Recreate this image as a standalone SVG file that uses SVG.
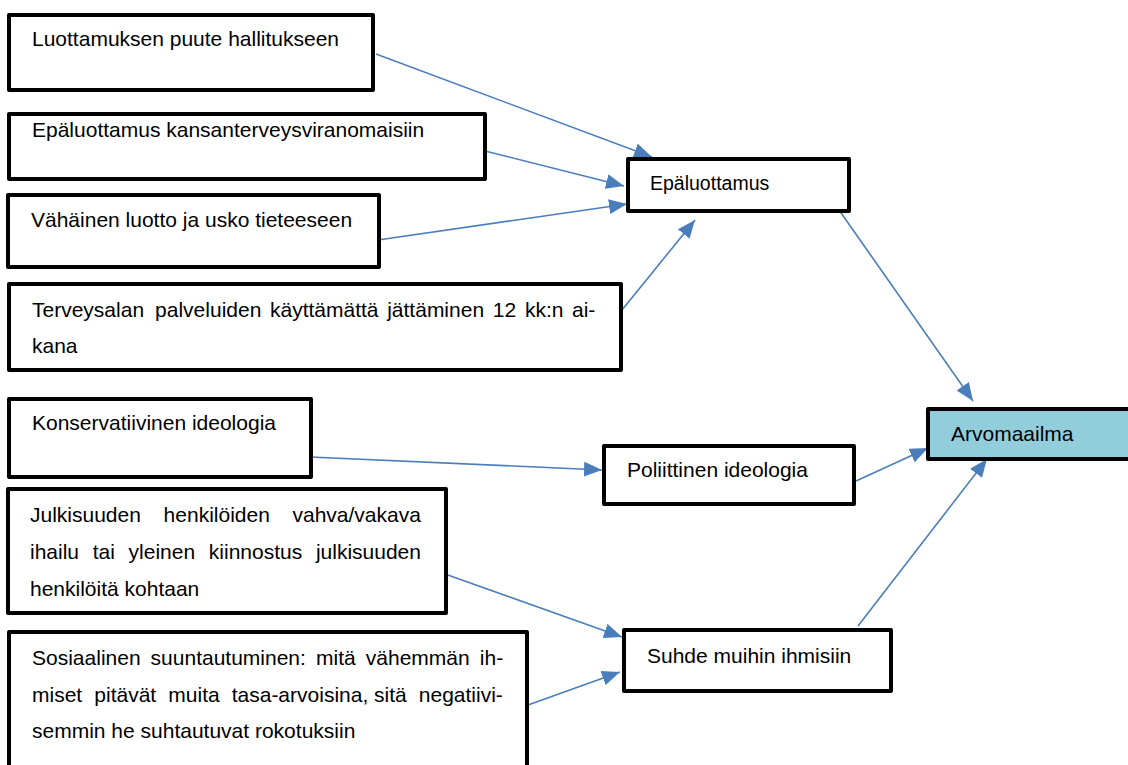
<svg xmlns="http://www.w3.org/2000/svg" width="1128" height="765" viewBox="0 0 1128 765">
<style>
.box{fill:#ffffff;stroke:#000000;stroke-width:4;stroke-linejoin:round}
.hl{fill:#92CDDC;stroke:#000000;stroke-width:4;stroke-linejoin:round}
.t{font-family:"Liberation Sans",Arial,sans-serif;font-size:21px;fill:#000000}
.c{fill:none;stroke:#4A7EBB;stroke-width:1.6}
</style>
<defs>
<marker id="ah" viewBox="0 0 18 15" refX="18" refY="7.5" markerWidth="18" markerHeight="15" markerUnits="userSpaceOnUse" orient="auto">
<path d="M0,0 L18,7.5 L0,15 z" fill="#4A7EBB"/>
</marker>
</defs>
<rect width="1128" height="765" fill="#ffffff"/>
<g id="connectors">
<path class="c" d="M376,54 L652,157" marker-end="url(#ah)"/>
<path class="c" d="M485,151 L624,186" marker-end="url(#ah)"/>
<path class="c" d="M378,240 L627,204" marker-end="url(#ah)"/>
<path class="c" d="M622,310 L695,220" marker-end="url(#ah)"/>
<path class="c" d="M839,210 L973,401" marker-end="url(#ah)"/>
<path class="c" d="M310,457 L602,470" marker-end="url(#ah)"/>
<path class="c" d="M856,481 L928,448" marker-end="url(#ah)"/>
<path class="c" d="M445,574 L622,637" marker-end="url(#ah)"/>
<path class="c" d="M528,705 L620,672" marker-end="url(#ah)"/>
<path class="c" d="M858,626 L987,459" marker-end="url(#ah)"/>
</g>
<g id="n1">
<rect class="box" x="9" y="15" width="364" height="75"/>
<text class="t" x="32" y="46">Luottamuksen puute hallitukseen</text>
</g>
<g id="n2">
<rect class="box" x="9" y="114" width="476" height="65"/>
<text class="t" x="32" y="137">Epäluottamus kansanterveysviranomaisiin</text>
</g>
<g id="n3">
<rect class="box" x="8" y="195" width="371" height="72"/>
<text class="t" x="31" y="227">Vähäinen luotto ja usko tieteeseen</text>
</g>
<g id="n4">
<rect class="box" x="9" y="284" width="612" height="86"/>
<text class="t" y="317"><tspan x="32">Terveysalan</tspan><tspan x="155.1">palveluiden</tspan><tspan x="270">käyttämättä</tspan><tspan x="387.2">jättäminen</tspan><tspan x="492.8">12</tspan><tspan x="524.9">kk:n</tspan><tspan x="572">ai-</tspan></text>
<text class="t" x="32" y="353">kana</text>
</g>
<g id="n5">
<rect class="box" x="9" y="399" width="302" height="78"/>
<text class="t" x="32" y="430">Konservatiivinen ideologia</text>
</g>
<g id="n6">
<rect class="box" x="8" y="489" width="438" height="124"/>
<text class="t" y="522"><tspan x="30">Julkisuuden</tspan><tspan x="163.6">henkilöiden</tspan><tspan x="292.5">vahva/vakava</tspan></text>
<text class="t" y="559"><tspan x="30">ihailu</tspan><tspan x="92.7">tai</tspan><tspan x="128.6">yleinen</tspan><tspan x="208.8">kiinnostus</tspan><tspan x="315.9">julkisuuden</tspan></text>
<text class="t" x="30" y="596">henkilöitä kohtaan</text>
</g>
<g id="n7">
<rect class="box" x="9" y="632" width="518" height="150"/>
<text class="t" y="665"><tspan x="32">Sosiaalinen</tspan><tspan x="150.6">suuntautuminen:</tspan><tspan x="316">mitä</tspan><tspan x="365.8">vähemmän</tspan><tspan x="479.8">ih-</tspan></text>
<text class="t" y="702"><tspan x="32">miset</tspan><tspan x="94.3">pitävät</tspan><tspan x="168.3">muita</tspan><tspan x="231.7">tasa-arvoisina,</tspan><tspan x="374">sitä</tspan><tspan x="418.8">negatiivi-</tspan></text>
<text class="t" x="32" y="738">semmin he suhtautuvat rokotuksiin</text>
</g>
<g id="n8">
<rect class="box" x="628" y="159" width="221" height="52"/>
<text class="t" x="650" y="190" style="font-size:19.5px">Epäluottamus</text>
</g>
<g id="n9">
<rect class="box" x="604" y="446" width="250" height="58"/>
<text class="t" x="627" y="477">Poliittinen ideologia</text>
</g>
<g id="n10">
<rect class="box" x="624" y="630" width="267" height="61"/>
<text class="t" x="647" y="663">Suhde muihin ihmisiin</text>
</g>
<g id="n11">
<rect class="hl" x="928" y="409" width="220" height="50"/>
<text class="t" x="951" y="441">Arvomaailma</text>
</g>
</svg>
